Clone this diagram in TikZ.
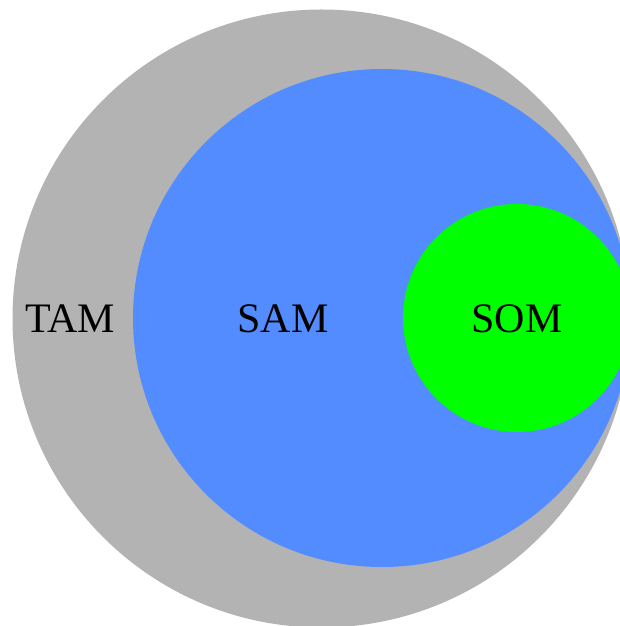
\documentclass[tikz,border=0pt]{standalone}
\usepackage{fontspec}
\setmainfont{Liberation Serif}
\definecolor{tamgray}{RGB}{179,179,179}
\definecolor{samblue}{RGB}{82,140,255}
\definecolor{somgreen}{RGB}{0,255,0}
\begin{document}
\begin{tikzpicture}[x=1pt,y=1pt,
  lbl/.style={anchor=base,font=\fontsize{42}{46}\selectfont,inner sep=0pt}]
\useasboundingbox (0,0) rectangle (620,626);
\clip (0,0) rectangle (620,626);
\fill[tamgray] (321.5,307.5) circle[radius=309];
\fill[samblue] (382,308) circle[radius=249];
\fill[somgreen] (517,308) circle[radius=114];
\node[lbl] (tam) at (70,293) {TAM};
\node[lbl] (sam) at (283,293) {SAM};
\node[lbl] (som) at (517,293) {SOM};
\end{tikzpicture}
\end{document}
